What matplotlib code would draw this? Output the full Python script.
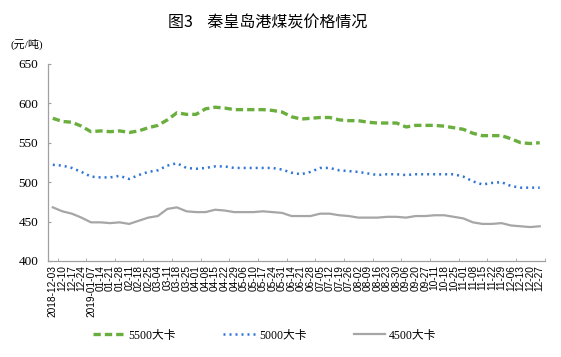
import numpy as np
import matplotlib
matplotlib.use('Agg')
import matplotlib.pyplot as plt
from matplotlib.ticker import FixedLocator

dates = ['2018-12-03', '12-10', '12-17', '12-24', '2019-01-07', '01-14', '01-21', '01-28',
         '02-11', '02-18', '02-25', '03-04', '03-11', '03-18', '03-25', '04-01', '04-08',
         '04-15', '04-22', '04-29', '05-06', '05-10', '05-17', '05-24', '05-31', '06-14',
         '06-21', '06-28', '07-05', '07-12', '07-19', '07-26', '08-02', '08-09', '08-16',
         '08-23', '08-30', '09-06', '09-20', '09-27', '10-11', '10-18', '10-25', '11-01',
         '11-08', '11-15', '11-22', '11-29', '12-06', '12-13', '12-20', '12-27']

kcal5500 = [581, 577, 576, 571, 564, 565, 564, 565, 563, 565, 569, 572, 579, 588, 586, 586,
            593, 595, 594, 592, 592, 592, 592, 591, 589, 583, 580, 581, 582, 582, 579, 578,
            578, 576, 575, 575, 575, 570, 572, 572, 572, 571, 569, 567, 562, 559, 559, 559,
            555, 550, 549, 550]
kcal5000 = [522, 521, 518, 513, 507, 506, 506, 508, 504, 509, 513, 515, 521, 524, 518, 517,
            518, 520, 520, 518, 518, 518, 518, 518, 516, 512, 510, 513, 518, 518, 515, 514,
            513, 511, 509, 510, 510, 509, 510, 510, 510, 510, 510, 507, 501, 497, 499, 500,
            495, 493, 493, 493]
kcal4500 = [468, 463, 460, 455, 449, 449, 448, 449, 447, 451, 455, 457, 466, 468, 463, 462,
            462, 465, 464, 462, 462, 462, 463, 462, 461, 457, 457, 457, 460, 460, 458, 457,
            455, 455, 455, 456, 456, 455, 457, 457, 458, 458, 456, 454, 449, 447, 447, 448,
            445, 444, 443, 444]

cjk = ['Noto Sans CJK SC', 'DejaVu Sans']
serif_cjk = ['Liberation Serif', 'Noto Sans CJK SC']

fig = plt.figure(figsize=(5.61, 3.57), dpi=100)
ax = fig.add_axes([0.0856, 0.269, 0.885, 0.552])

x = np.arange(len(dates))
ax.plot(x, kcal5500, color='#6AAF3D', lw=2.4, linestyle=(0, (2.2, 1.2)), label='5500大卡')
ax.plot(x, kcal5000, color='#2E75D6', lw=1.8, linestyle=(0, (0.8, 1.6)), label='5000大卡')
ax.plot(x, kcal4500, color='#A6A6A6', lw=1.6, linestyle='-', label='4500大卡')

ax.set_xlim(-0.5, len(dates) - 0.5)
ax.set_ylim(400, 650)
ax.set_yticks(np.arange(400, 651, 50))
ax.set_xticks(x)
ax.set_xticklabels(dates, rotation=90, fontsize=7.3, family='Liberation Sans')
ax.tick_params(axis='x', which='major', length=0, pad=3)
ax.xaxis.set_minor_locator(FixedLocator(np.arange(0.5, len(dates), 3)))
ax.tick_params(axis='x', which='minor', direction='in', length=2.5, color='#A0A0A0')
ax.tick_params(axis='y', direction='in', length=2.5, color='#A0A0A0', labelsize=9.5, pad=7)
for lab in ax.get_yticklabels():
    lab.set_family('Liberation Serif')

for s in ['top', 'right']:
    ax.spines[s].set_visible(False)
for s in ['left', 'bottom']:
    ax.spines[s].set_color('#A0A0A0')
    ax.spines[s].set_linewidth(0.9)

fig.text(0.477, 0.935, '图3    秦皇岛港煤炭价格情况', ha='center', va='center',
         fontsize=11.5, family=cjk)
fig.text(0.018, 0.875, '(元/吨)', ha='left', va='center', fontsize=8, family=serif_cjk)

leg = fig.legend(loc='center', bbox_to_anchor=(0.472, 0.06), ncol=3, frameon=False,
                 handlelength=2.7, handletextpad=0.3, columnspacing=4.0,
                 prop={'family': serif_cjk, 'size': 8.5})

fig.savefig('out.png', dpi=100)
